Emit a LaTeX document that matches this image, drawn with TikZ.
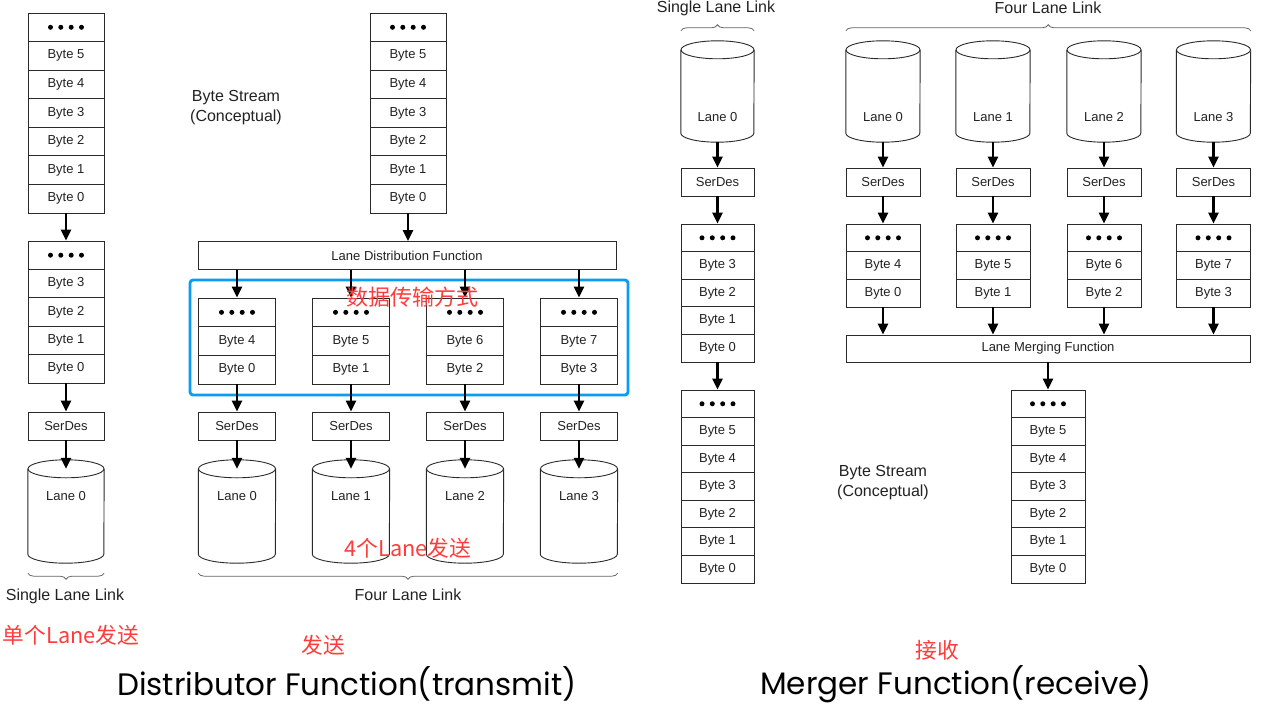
\documentclass[tikz,border=0pt]{standalone}
\usepackage{fontspec}
\setmainfont{Liberation Sans}
\newfontfamily\cjk{Noto Sans CJK SC}
\newfontfamily\bigf{Poppins}
\usetikzlibrary{arrows.meta,decorations.pathreplacing}
\definecolor{boxline}{HTML}{2A2A2A}
\definecolor{txt}{HTML}{222222}
\definecolor{redt}{HTML}{FF3C3C}
\definecolor{bluebox}{HTML}{0A9BF5}
\definecolor{bracec}{HTML}{666666}
\tikzset{
  cell/.style={draw=boxline, line width=0.9pt, inner sep=0pt, text=txt, font=\fontsize{13}{15}\selectfont},
  cylbox/.style={draw=none, inner sep=0pt},
  lbl/.style={inner sep=0pt, text=txt, font=\fontsize{13}{15}\selectfont},
  biglbl/.style={inner sep=0pt, text=txt, font=\fontsize{16}{20}\selectfont},
  redlbl/.style={inner sep=0pt, text=redt, font=\cjk\fontsize{21.7}{24}\selectfont},
  bigt/.style={inner sep=0pt, text=black, font=\bigf\fontsize{31}{34}\selectfont},
  arr/.style={-{Triangle[length=11pt,width=10pt]}, line width=2.6pt, black},
  brc/.style={draw=bracec, line width=0.8pt, decorate, decoration={brace, amplitude=6pt}},
}
% name, cx, top, width, cell height, items
\newcommand{\mkstack}[6]{%
  \node[cell, minimum width=#4pt, minimum height=#5pt] (#1-0) at (#2,{#3+0.5*#5}) {};
  \foreach \dx in {-15.5,-5.2,5.2,15.5} \fill[black] ([xshift=\dx pt]#1-0.center) circle (2.5pt);
  \foreach \t [count=\k] in {#6} \node[cell, minimum width=#4pt, minimum height=#5pt] (#1-\k) at (#2,{#3+(\k+0.5)*#5}) {\t};
}
% name, cx, cy, width, height, label, label yshift
\newcommand{\mkcyl}[7]{%
  \node[cylbox, minimum width=#4pt, minimum height=#5pt] (#1) at (#2,#3) {};
  \draw[boxline, line width=0.9pt] ([yshift=-9pt]#1.north west) -- ([yshift=9pt]#1.south west)
     arc[start angle=180, end angle=360, x radius={#4*0.5pt}, y radius=9pt] -- ([yshift=-9pt]#1.north east);
  \draw[boxline, line width=0.9pt] ([yshift=-9pt]#1.north) ellipse [x radius={#4*0.5pt}, y radius=9pt];
  \node[lbl] (#1-t) at ([yshift=#7pt]#1.center) {#6};
}
\begin{document}
\begin{tikzpicture}[x=1pt, y=-1pt]
\useasboundingbox (0,0) rectangle (1262,717);
\fill[white] (0,0) rectangle (1262,717);

% ================= Transmit side =================
\mkstack{tA}{66}{13}{76}{28.57}{Byte 5,Byte 4,Byte 3,Byte 2,Byte 1,Byte 0}
\mkstack{tB}{66}{241}{76}{28.4}{Byte 3,Byte 2,Byte 1,Byte 0}
\node[cell, minimum width=76pt, minimum height=28pt] (tS0) at (66,426) {SerDes};
\mkcyl{tC0}{66}{511.5}{76}{103}{Lane 0}{15.5}

\mkstack{tM}{408}{13}{76}{28.57}{Byte 5,Byte 4,Byte 3,Byte 2,Byte 1,Byte 0}
\node[biglbl, align=center] (tBS) at (236,107.5) {Byte Stream\\(Conceptual)};
\node[cell, minimum width=418pt, minimum height=28pt] (LDF) at (407,255.5) {Lane Distribution Function};

\node[draw=bluebox, line width=2.8pt, rounded corners=3pt, minimum width=438pt, minimum height=115pt, inner sep=0pt] (blue) at (409,337.5) {};

\foreach \i/\x/\a/\b in {1/237/Byte 4/Byte 0, 2/351/Byte 5/Byte 1, 3/465/Byte 6/Byte 2, 4/579/Byte 7/Byte 3} {
  \mkstack{tL\i}{\x}{298}{77}{28.67}{\a,\b}
  \node[cell, minimum width=77pt, minimum height=28pt] (tS\i) at (\x,426) {SerDes};
}
\mkcyl{tC1}{237}{511.5}{77}{103}{Lane 0}{15.5}
\mkcyl{tC2}{351}{511.5}{77}{103}{Lane 1}{15.5}
\mkcyl{tC3}{465}{511.5}{77}{103}{Lane 2}{15.5}
\mkcyl{tC4}{579}{511.5}{77}{103}{Lane 3}{15.5}

\draw[arr] (tA-6.south) -- (tB-0.north);
\draw[arr] (tB-4.south) -- (tS0.north);
\draw[arr] (tS0.south) -- ([yshift=-9pt]tC0.north);
\draw[arr] (tM-6.south) -- (tM-6.south |- LDF.north);
\foreach \i in {1,2,3,4} {
  \draw[arr] (tL\i-0.north |- LDF.south) -- (tL\i-0.north);
  \draw[arr] (tL\i-2.south) -- (tS\i.north);
  \draw[arr] (tS\i.south) -- ([yshift=-9pt]tC\i.north);
}

\coordinate (tb0a) at ([yshift=-10pt]tC0.south west);
\coordinate (tb0b) at ([yshift=-10pt]tC0.south east);
\draw[brc] (tb0b) -- (tb0a);
\coordinate (tb1a) at ([yshift=-10pt]tC1.south west);
\coordinate (tb1b) at ([yshift=-10pt]tC4.south east);
\draw[brc] (tb1b) -- (tb1a);
\node[biglbl] (tSLL) at (65,596) {Single Lane Link};
\node[biglbl] (tFLL) at (408,595) {Four Lane Link};

% ================= Receive side =================
\mkcyl{rC0}{717.5}{91.5}{73}{101}{Lane 0}{-25.5}
\node[cell, minimum width=73pt, minimum height=28pt] (rS0) at (717.5,182) {SerDes};
\mkstack{rA}{717.5}{224}{73}{27.6}{Byte 3,Byte 2,Byte 1,Byte 0}
\mkstack{rB}{717.5}{390}{73}{27.57}{Byte 5,Byte 4,Byte 3,Byte 2,Byte 1,Byte 0}

\mkcyl{rC1}{883}{91.5}{74}{101}{Lane 0}{-25.5}
\mkcyl{rC2}{993}{91.5}{74}{101}{Lane 1}{-25.5}
\mkcyl{rC3}{1104}{91.5}{74}{101}{Lane 2}{-25.5}
\mkcyl{rC4}{1213.5}{91.5}{74}{101}{Lane 3}{-25.5}
\foreach \i/\x/\a/\b in {1/883/Byte 4/Byte 0, 2/993/Byte 5/Byte 1, 3/1104/Byte 6/Byte 2, 4/1213.5/Byte 7/Byte 3} {
  \node[cell, minimum width=74pt, minimum height=28pt] (rS\i) at (\x,182) {SerDes};
  \mkstack{rL\i}{\x}{224}{74}{27.67}{\a,\b}
}
\node[cell, minimum width=404pt, minimum height=27pt] (LMF) at (1048,348.5) {Lane Merging Function};
\mkstack{rO}{1048}{390}{74}{27.57}{Byte 5,Byte 4,Byte 3,Byte 2,Byte 1,Byte 0}
\node[biglbl, align=center] (rBS) at (883,482.5) {Byte Stream\\(Conceptual)};

\draw[arr] (rC0.south) -- (rS0.north);
\draw[arr] (rS0.south) -- (rA-0.north);
\draw[arr] (rA-4.south) -- (rB-0.north);
\foreach \i in {1,2,3,4} {
  \draw[arr] (rC\i.south) -- (rS\i.north);
  \draw[arr] (rS\i.south) -- (rL\i-0.north);
  \draw[arr] (rL\i-2.south) -- (rL\i-2.south |- LMF.north);
}
\draw[arr] (LMF.south -| rO-0.north) -- (rO-0.north);

\coordinate (rb0a) at ([yshift=10pt]rC0.north west);
\coordinate (rb0b) at ([yshift=10pt]rC0.north east);
\draw[brc] (rb0a) -- (rb0b);
\coordinate (rb1a) at ([yshift=10pt]rC1.north west);
\coordinate (rb1b) at ([yshift=10pt]rC4.north east);
\draw[brc] (rb1a) -- (rb1b);
\node[biglbl] (rSLL) at (716,8) {Single Lane Link};
\node[biglbl] (rFLL) at (1048,8) {Four Lane Link};

% ================= Annotations =================
\node[redlbl, font=\cjk\fontsize{22}{24}\selectfont] (anno1) at (412,297) {数据传输方式};
\node[redlbl] (anno2) at (408,548) {4个Lane发送};
\node[redlbl] (anno3) at (71,635) {单个Lane发送};
\node[redlbl] (anno4) at (323,645) {发送};
\node[redlbl] (anno5) at (937,650) {接收};
\node[bigt] (title1) at (347,684) {Distributor Function(transmit)};
\node[bigt] (title2) at (956,684) {Merger Function(receive)};
\end{tikzpicture}
\end{document}
